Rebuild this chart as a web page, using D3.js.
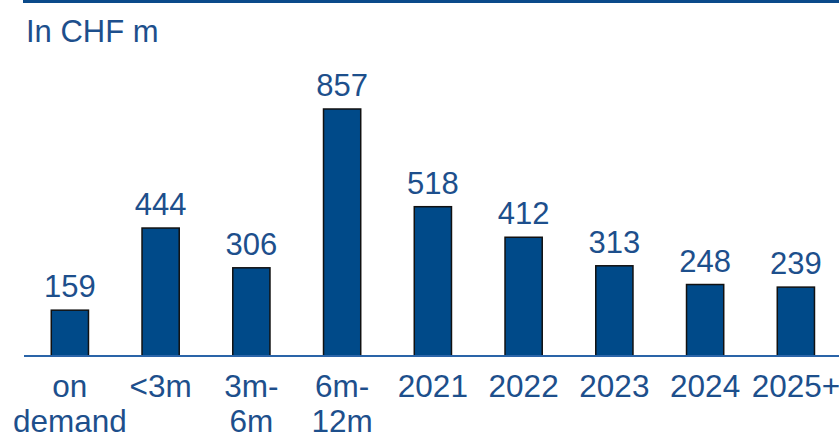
<!DOCTYPE html>
<html>
<head>
<meta charset="utf-8">
<script src="https://cdn.jsdelivr.net/npm/d3@7/dist/d3.min.js"></script>
<style>
  html, body { margin: 0; padding: 0; background: #fff; }
  svg { display: block; }
  text { font-family: "Liberation Sans", Arial, sans-serif; fill: #1d4f8c; }
</style>
</head>
<body>
<svg id="chart" width="839" height="439"></svg>
<script>
// Maturity buckets (multi-line labels split on "\n")
const categories = ["on\ndemand", "<3m", "3m-\n6m", "6m-\n12m", "2021", "2022", "2023", "2024", "2025+"];
const values = [159, 444, 306, 857, 518, 412, 313, 248, 239];
const unitLabel = "In CHF m";

const svg = d3.select("#chart");
const W = 839, H = 439;
const baseY = 356;

const x = d3.scaleBand()
  .domain(categories)
  .range([24.5, 24.5 + 90.75 * categories.length])
  .paddingInner(0.59)
  .paddingOuter(0.295);

const y = d3.scaleLinear()
  .domain([0, 857])
  .range([baseY, 109]);

// top rule
svg.append("rect")
  .attr("x", 23).attr("y", 0)
  .attr("width", W - 23).attr("height", 3)
  .attr("fill", "#0b4a8a");

// unit label
svg.append("text")
  .attr("x", 26).attr("y", 42)
  .attr("font-size", 31)
  .text(unitLabel);

// bars
svg.append("g").selectAll("rect")
  .data(values)
  .join("rect")
  .attr("x", (d, i) => x(categories[i]))
  .attr("y", d => y(d))
  .attr("width", x.bandwidth())
  .attr("height", d => baseY - y(d))
  .attr("fill", "#004a89")
  .attr("stroke", "#111")
  .attr("stroke-width", 1.5);

// value labels
svg.append("g").selectAll("text")
  .data(values)
  .join("text")
  .attr("x", (d, i) => x(categories[i]) + x.bandwidth() / 2)
  .attr("y", d => y(d) - 13)
  .attr("text-anchor", "middle")
  .attr("font-size", 31)
  .text(d => d);

// baseline axis
svg.append("line")
  .attr("x1", 24).attr("x2", W)
  .attr("y1", baseY).attr("y2", baseY)
  .attr("stroke", "#2a64a8")
  .attr("stroke-width", 2);

// category labels
const lbl = svg.append("g").selectAll("text")
  .data(categories)
  .join("text")
  .attr("x", d => x(d) + x.bandwidth() / 2)
  .attr("y", 397)
  .attr("text-anchor", "middle")
  .attr("font-size", 31.5);
lbl.each(function(d) {
  const t = d3.select(this);
  const cx = +t.attr("x");
  d.split("\n").forEach((line, k) => {
    t.append("tspan").attr("x", cx).attr("dy", k === 0 ? 0 : 35).text(line);
  });
});
</script>
</body>
</html>
